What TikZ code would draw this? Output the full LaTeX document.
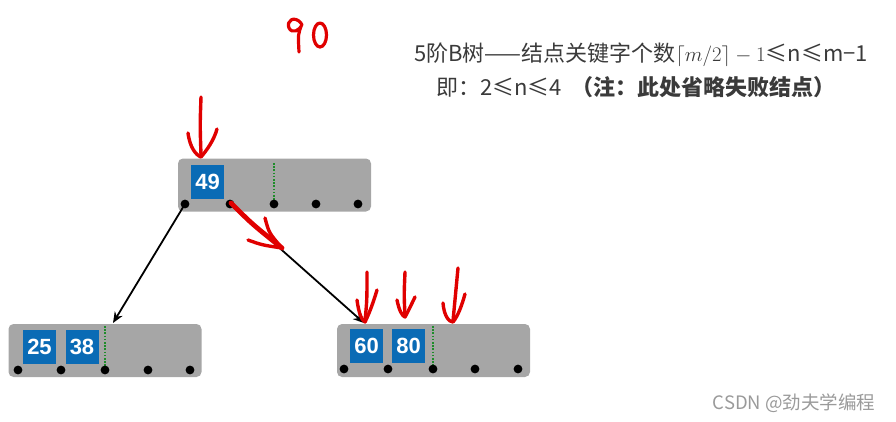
\documentclass[tikz,border=0pt]{standalone}
\usepackage{fontspec}
\setmainfont{Liberation Sans}
\newfontfamily\cjk{Noto Sans CJK SC}
\usetikzlibrary{arrows.meta}
\definecolor{nodegray}{HTML}{A6A6A6}
\definecolor{keyblue}{HTML}{0A6BB5}
\definecolor{penred}{HTML}{E00000}
\definecolor{ptrgreen}{HTML}{1E8C2A}
\definecolor{textgray}{HTML}{3A3A3A}
\definecolor{markgray}{HTML}{9A9A9A}

\begin{document}
\begin{tikzpicture}[x=1pt,y=-1pt,
  bnode/.style={fill=nodegray, rounded corners=5pt, minimum width=193pt, minimum height=53pt, inner sep=0pt},
  key/.style={fill=keyblue, text=white, font=\bfseries\fontsize{22}{22}\selectfont, minimum width=33pt, minimum height=34pt, inner sep=0pt},
  sep/.style={ptrgreen, line width=1.8pt, dash pattern=on 1.6pt off 1.6pt},
  link/.style={line width=1.8pt, -{Stealth[length=11pt,width=9pt]}},
  pen/.style={penred, line width=3.4pt, line cap=round, line join=round}]
\useasboundingbox (0,0) rectangle (896,421);

\node[bnode] (root) at (274.5,185) {};
\node[key] (k49) at (207.5,181.5) {49};
\draw[sep] (274,163) -- (274,200);

\node[bnode] (lleaf) at (105,350.5) {};
\node[key] (k25) at (39.5,347) {25};
\node[key] (k38) at (82,347) {38};
\draw[sep] (105,326) -- (105,367);

\node[bnode] (rleaf) at (433.5,350.5) {};
\node[key] (k60) at (366.5,346) {60};
\node[key] (k80) at (408.5,346) {80};
\draw[sep] (433,326) -- (433,367);

\foreach \i/\x in {1/185,2/230,3/274,4/316,5/358}
  \coordinate (r\i) at (\x,204);
\foreach \i/\x in {1/18,2/61,3/105,4/148,5/190}
  \coordinate (l\i) at (\x,370);
\foreach \i/\x in {1/344,2/388,3/433,4/475,5/518}
  \coordinate (q\i) at (\x,369);

\coordinate (lin) at (113,323);
\coordinate (rin) at (364,323);
\draw[link] (r1) -- (lin);
\draw[link] (r2) -- (rin);

\foreach \p in {r1,r2,r3,r4,r5,l1,l2,l3,l4,l5,q1,q2,q3,q4,q5}
  \fill (\p) circle (4.4);

% red pen marks
\draw[pen] (201,97) .. controls (200,125) .. (201,155);
\draw[pen] (188,133) .. controls (190,148) and (196,155) .. (201,157) .. controls (207,150) and (214,140) .. (217,129);

\draw[pen, line width=4.8pt] (231,203) .. controls (252,224) .. (282,248);
\draw[pen] (248,240) .. controls (262,245) .. (282,248);
\draw[pen] (265,218) .. controls (269,233) .. (282,248);

\draw[pen] (367,272) .. controls (367,300) .. (365,321);
\draw[pen] (357,300) .. controls (359,315) and (362,320) .. (365,322) .. controls (370,312) and (374,300) .. (377,290);
\draw[pen] (405,272) .. controls (404,295) .. (405,316);
\draw[pen] (397,300) .. controls (399,310) and (402,316) .. (405,317) .. controls (409,310) and (412,303) .. (415,297);
\draw[pen] (458,268) .. controls (455,295) .. (453,321);
\draw[pen] (443,303) .. controls (444,316) and (449,322) .. (453,322) .. controls (458,316) and (462,305) .. (465,294);

\draw[pen, line width=3.2pt] (301,23) .. controls (294,15) and (286,21) .. (289,28) .. controls (292,34) and (300,31) .. (302,24) .. controls (298,34) .. (299,52);
\draw[pen, line width=3.2pt] (320,35) ellipse [x radius=6.5, y radius=12];

\node[text=textgray, font=\fontsize{22}{24}\selectfont] (title) at (641,55)
  {{\cjk 5阶B树——结点关键字个数}$\lceil m/2\rceil - 1${\cjk ≤n≤m−1}};
\node[text=textgray, font=\fontsize{22}{24}\selectfont] (note) at (636,87)
  {\cjk 即：2≤n≤4\ \ {\bfseries （注：此处省略失败结点）}};

\node[text=markgray, font=\fontsize{18.5}{20}\selectfont] (mark) at (794,403) {\cjk CSDN @劲夫学编程};
\end{tikzpicture}
\end{document}
